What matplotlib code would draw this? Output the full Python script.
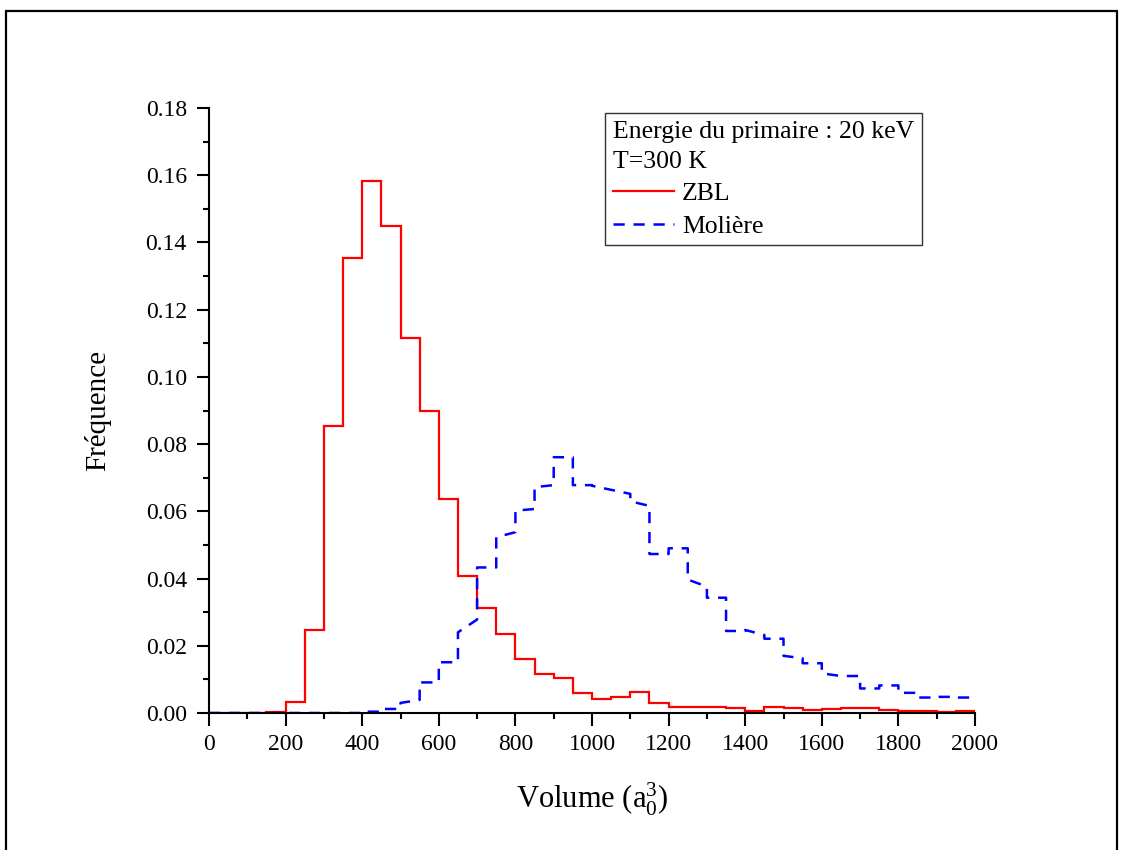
import numpy as np
import matplotlib
matplotlib.use("Agg")
import matplotlib.pyplot as plt
from matplotlib.patches import Rectangle
from matplotlib.ticker import MultipleLocator, FormatStrFormatter

# ---------------- data ----------------
bin_width = 50
bin_starts = list(range(0, 2000, bin_width))

zbl = [0.0, 0.0, 0.0, 0.0003, 0.0033, 0.0247, 0.0854, 0.1354, 0.1584, 0.1450,
       0.1117, 0.0899, 0.0637, 0.0409, 0.0312, 0.0234, 0.0162, 0.0116, 0.0103, 0.0059,
       0.0041, 0.0049, 0.0062, 0.0030, 0.0019, 0.0018, 0.0018, 0.0015, 0.0007, 0.0018,
       0.0014, 0.0009, 0.0011, 0.0015, 0.0014, 0.0008, 0.0005, 0.0007, 0.0002, 0.0007]

# Molière: value at the left and right side of each bin (a few bins are slanted)
moliere_left = [0.0, 0.0, 0.0, 0.0, 0.0, 0.0, 0.0, 0.0, 0.0004, 0.0012,
                0.0030, 0.0091, 0.0151, 0.0240, 0.0433, 0.0523, 0.0602, 0.0672, 0.0761, 0.0678,
                0.0676, 0.0664, 0.0630, 0.0473, 0.0490, 0.0397, 0.0343, 0.0244, 0.0247, 0.0221,
                0.0170, 0.0148, 0.0118, 0.0110, 0.0073, 0.0082, 0.0060, 0.0046, 0.0048, 0.0046]
moliere_right = [0.0, 0.0, 0.0, 0.0, 0.0, 0.0, 0.0, 0.0, 0.0004, 0.0012,
                 0.0039, 0.0091, 0.0151, 0.0278, 0.0433, 0.0538, 0.0607, 0.0678, 0.0761, 0.0678,
                 0.0664, 0.0652, 0.0616, 0.0473, 0.0490, 0.0376, 0.0343, 0.0244, 0.0232, 0.0221,
                 0.0163, 0.0148, 0.0110, 0.0110, 0.0073, 0.0082, 0.0060, 0.0046, 0.0048, 0.0046]

x_ticks = [0, 200, 400, 600, 800, 1000, 1200, 1400, 1600, 1800, 2000]
y_ticks = [0.00, 0.02, 0.04, 0.06, 0.08, 0.10, 0.12, 0.14, 0.16, 0.18]

legend_title = "Energie du primaire : 20 keV\nT=300 K"
labels = ["ZBL", "Molière"]

# ---------------- style ----------------
plt.rcParams['font.family'] = ['Liberation Serif', 'DejaVu Serif']
plt.rcParams['mathtext.fontset'] = 'custom'
plt.rcParams['mathtext.rm'] = 'Liberation Serif'
plt.rcParams['mathtext.it'] = 'Liberation Serif:italic'

fig = plt.figure(figsize=(11.25, 8.5), dpi=100)
ax = fig.add_axes([209 / 1125, 137 / 850, 766 / 1125, 605 / 850])

edges = np.array(bin_starts + [bin_starts[-1] + bin_width])
ax.stairs(zbl, edges, baseline=None, color='#ff0000', lw=1.6, label=labels[0])

mx = np.column_stack([edges[:-1], edges[1:]]).ravel()
my = np.column_stack([moliere_left, moliere_right]).ravel()
ax.plot(mx, my, color='#0000ff', lw=1.8, linestyle=(0, (4.5, 3.5)), label=labels[1])

ax.set_xlim(0, 2000)
ax.set_ylim(0, 0.18)
ax.set_xticks(x_ticks)
ax.set_yticks(y_ticks)
ax.xaxis.set_minor_locator(MultipleLocator(100))
ax.yaxis.set_minor_locator(MultipleLocator(0.01))
ax.yaxis.set_major_formatter(FormatStrFormatter('%.2f'))

for s in ['top', 'right']:
    ax.spines[s].set_visible(False)
for s in ['left', 'bottom']:
    ax.spines[s].set_linewidth(1.5)

ax.tick_params(which='major', direction='out', length=9, width=1.5, labelsize=17)
ax.tick_params(which='minor', direction='out', length=4.5, width=1.5)
ax.tick_params(axis='x', which='major', pad=6)
ax.tick_params(axis='y', which='major', pad=7)

ax.set_xlabel(r'Volume (a$_\mathregular{0}^\mathregular{3}$)', fontsize=22, labelpad=19)
ax.set_ylabel('Fréquence', fontsize=21, labelpad=25)

leg = ax.legend(title=legend_title, loc='upper left', bbox_to_anchor=(0.5170, 0.9917),
                fontsize=18.5, title_fontsize=18.5, alignment='left', frameon=True,
                fancybox=False, framealpha=1, edgecolor='#333333', borderpad=0.3,
                handlelength=2.4, handletextpad=0.3, labelspacing=0.37, borderaxespad=0)
leg.get_frame().set_linewidth(1.0)
leg.get_title().set_linespacing(1.47)

# outer figure frame (bottom edge lies outside the image)
fig.patches.append(Rectangle((5.5 / 1125, -0.05), (1116.5 - 5.5) / 1125, 1 - 10.5 / 850 + 0.05,
                             transform=fig.transFigure, fill=False, edgecolor='black',
                             lw=1.6, clip_on=False))

fig.savefig('out.png', dpi=100)
